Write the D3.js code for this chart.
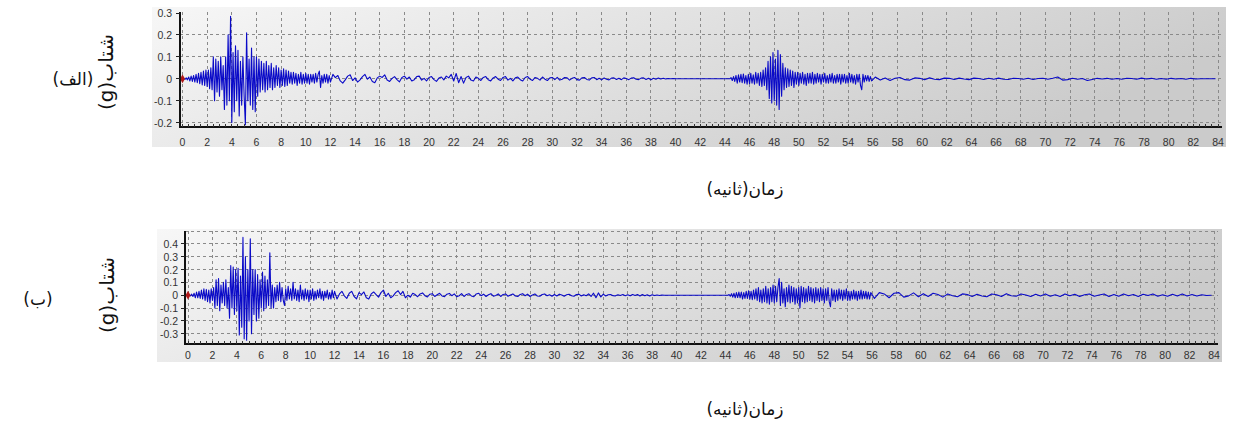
<!DOCTYPE html>
<html>
<head>
<meta charset="utf-8">
<script src="https://cdn.jsdelivr.net/npm/d3@7"></script>
<style>
  html, body { margin: 0; padding: 0; background: #ffffff; }
  svg { display: block; }
</style>
</head>
<body>
<svg id="chart" width="1243" height="424"></svg>
<script>
// ---------------- DATA ----------------
const xTickValues = d3.range(0, 85, 2);
const yTicksA = [0.3, 0.2, 0.1, 0, -0.1, -0.2];
const yTicksB = [0.4, 0.3, 0.2, 0.1, 0, -0.1, -0.2, -0.3];
const panelLabels = ["(الف)", "(ب)"];
const xTitle = "زمان(ثانیه)";
const yTitle = "شتاب(g)";

// Record A : segments start time (s) and sampling step (s)
const segStartA = [0, 12.2, 44.4, 56.2];
const segStepA  = [0.1, 0.2, 0.1, 0.4];
const accA1 = [
  0, 0.002, -0.003, 0.004, -0.005,
  0.008, -0.01, 0.012, -0.012, 0.015,
  -0.015, 0.02, -0.018, 0.025, -0.022,
  0.03, -0.028, 0.035, -0.03, 0.04,
  -0.035, 0.04, -0.045, 0.05, -0.05,
  0.1, -0.1, 0.09, -0.06, 0.08,
  -0.08, 0.1, -0.05, 0.06, -0.14,
  0.1, -0.12, 0.2, -0.1, 0.285,
  -0.2, 0.12, -0.15, 0.15, -0.1,
  0.13, -0.17, 0.08, -0.12, 0.1,
  -0.08, -0.21, 0.21, -0.1, 0.09,
  -0.12, 0.14, -0.14, 0.1, -0.15,
  0.1, -0.08, 0.09, -0.06, 0.08,
  -0.05, 0.07, -0.06, 0.08, -0.05,
  0.06, -0.04, 0.07, -0.05, 0.05,
  -0.04, 0.06, -0.03, 0.05, -0.04,
  0.04, -0.03, 0.045, -0.035, 0.04,
  -0.03, 0.035, -0.02, 0.03, -0.025,
  0.03, -0.02, 0.025, -0.03, 0.02,
  -0.02, 0.03, -0.025, 0.02, -0.02,
  0.025, -0.02, 0.02, -0.025, 0.02,
  -0.015, 0.02, -0.02, 0.025, -0.015,
  0.02, 0.035, -0.04, 0.015, -0.02,
  0.02, -0.015, 0.02, -0.02, 0.015,
  -0.015
];
const accA2 = [
  0.02, 0.005, 0.015, -0.01, -0.02,
  -0.005, 0.012, 0.018, -0.008, 0.004,
  -0.015, -0.005, 0.01, 0.02, -0.002,
  0.008, -0.012, -0.018, 0.004, 0.012,
  0.006, 0.018, -0.006, -0.012, 0.002,
  0.01, -0.004, -0.014, 0.006, 0.012,
  -0.002, 0.008, -0.01, -0.004, 0.01,
  0.012, -0.006, 0.002, -0.01, 0.006,
  0.01, -0.004, -0.012, 0.003, 0.008,
  -0.005, 0.012, 0.004, 0.02, -0.01,
  0.024, -0.018, 0.01, -0.02, 0.006,
  0.012, -0.006, -0.01, 0.008, 0.002,
  -0.008, 0.006, 0.01, -0.004, -0.01,
  0.004, 0.01, -0.002, -0.008, 0.006,
  0.01, -0.006, 0.002, -0.01, 0.004,
  0.008, -0.004, -0.01, 0.006, 0.01,
  -0.002, -0.008, 0.006, 0.002, -0.006,
  0.008, -0.002, -0.008, 0.004, 0.006,
  -0.004, 0.006, -0.006, -0.002, 0.006,
  0.004, -0.006, 0.002, 0.006, -0.004,
  -0.006, 0.004, 0.006, -0.003, -0.006,
  0.004, 0.006, -0.004, 0.002, -0.005,
  0.004, -0.002, -0.005, 0.003, 0.004,
  -0.003, 0.002, -0.004, 0.004, 0.001,
  -0.004, 0.003, 0.005, -0.002, -0.004,
  0.003, 0.004, -0.003, 0.002, -0.004,
  0.002, -0.002, 0.003, -0.001, 0.002,
  -0.001, 0.001, 0, 0.001, 0
];
const accA3 = [
  0, 0.005, -0.008, 0.01, -0.012,
  0.015, -0.02, 0.018, -0.015, 0.02,
  -0.018, 0.022, -0.02, 0.015, -0.025,
  0.02, -0.022, 0.025, -0.02, 0.018,
  -0.025, 0.03, -0.02, 0.025, -0.03,
  0.03, -0.035, 0.04, -0.03, 0.05,
  -0.05, 0.08, -0.09, 0.1, -0.11,
  0.12, -0.1, 0.09, -0.12, 0.13,
  -0.14, 0.11, -0.08, 0.07, -0.05,
  0.05, -0.04, 0.045, -0.035, 0.04,
  -0.03, 0.035, -0.04, 0.03, -0.025,
  0.03, -0.03, 0.025, -0.02, 0.03,
  -0.025, 0.02, -0.03, 0.025, -0.02,
  0.025, -0.02, 0.03, -0.025, 0.02,
  -0.02, 0.025, -0.015, 0.02, -0.025,
  0.02, -0.015, 0.025, -0.02, 0.015,
  -0.02, 0.02, -0.015, 0.025, -0.02,
  0.015, -0.02, 0.02, -0.015, 0.02,
  -0.025, 0.02, -0.015, 0.02, -0.02,
  0.015, -0.02, 0.025, -0.015, 0.02,
  -0.02, 0.015, -0.025, 0.02, -0.015,
  0.02, -0.03, -0.05, 0.02, -0.015,
  0.015, -0.01, 0.015, -0.012, 0.01,
  -0.01
];
const accA4 = [
  0.008, -0.006, 0.004, -0.008, 0.002,
  0.006, -0.004, -0.006, 0.004, 0.002,
  -0.004, 0.004, -0.002, -0.004, 0.003,
  0.002, -0.003, 0.003, -0.001, -0.004,
  0.003, 0.001, -0.003, 0.002, -0.002,
  0.003, -0.002, -0.003, 0.002, 0.001,
  -0.002, 0.002, -0.003, 0.001, 0.002,
  -0.002, 0.002, 0.008, -0.006, -0.004,
  0.002, -0.002, 0.001, -0.008, -0.003,
  0.002, -0.001, 0.002, -0.002, 0.001,
  -0.002, 0.002, 0.001, -0.002, 0.003,
  -0.001, 0.002, -0.002, 0.001, -0.002,
  0.002, -0.001, 0.001, -0.002, 0.002,
  -0.001, 0, 0, 0, 0
];

// Record B
const segStartB = [0, 12.2, 44.2, 56.2];
const segStepB  = [0.1, 0.2, 0.1, 0.4];
const accB1 = [
  0, 0.003, -0.005, 0.008, -0.01,
  0.015, -0.02, 0.025, -0.02, 0.03,
  -0.025, 0.04, -0.03, 0.05, -0.04,
  0.045, -0.05, 0.04, -0.06, 0.05,
  -0.04, 0.06, -0.1, 0.12, -0.08,
  0.13, -0.12, 0.08, -0.06, 0.1,
  -0.08, 0.12, -0.1, 0.06, -0.18,
  0.23, -0.1, 0.22, -0.15, 0.2,
  -0.12, 0.21, -0.31, 0.15, -0.25,
  0.45, -0.34, 0.3, -0.35, 0.2,
  -0.2, 0.44, -0.3, 0.2, -0.15,
  0.2, -0.2, 0.16, -0.18, 0.12,
  -0.1, 0.18, -0.12, 0.15, -0.1,
  0.12, -0.08, 0.33, -0.1, 0.08,
  -0.1, 0.06, -0.05, 0.08, -0.04,
  0.1, -0.05, 0.06, -0.04, -0.08,
  0.05, -0.04, 0.07, -0.03, 0.05,
  -0.04, 0.1, -0.03, 0.05, -0.04,
  0.04, -0.05, 0.08, -0.03, 0.04,
  -0.04, 0.05, -0.03, 0.04, -0.05,
  0.04, -0.03, 0.05, -0.04, 0.03,
  -0.03, 0.04, -0.02, 0.05, -0.03,
  0.03, -0.04, 0.03, -0.02, 0.04,
  -0.03, 0.02, -0.03, 0.04, -0.02,
  0.03
];
const accB2 = [
  -0.03, 0.01, 0.03, -0.005, -0.025,
  0.015, 0.03, -0.01, -0.028, 0.02,
  0.005, 0.025, -0.02, -0.03, 0.01,
  0.025, 0.005, -0.015, 0.02, 0.04,
  -0.01, 0.015, -0.02, -0.005, 0.02,
  0.035, 0.005, 0.03, -0.02, 0.0,
  -0.015, 0.015, 0.005, -0.012, 0.01,
  0.018, -0.004, -0.014, 0.008, 0.012,
  -0.01, 0.004, 0.015, -0.006, -0.012,
  0.008, 0.014, -0.004, 0.01, -0.012,
  -0.004, 0.012, -0.01, 0.006, 0.012,
  -0.006, -0.012, 0.01, 0.015, -0.004,
  0.008, -0.01, 0.004, 0.012, -0.008,
  -0.002, 0.01, -0.01, 0.006, 0.01,
  -0.008, 0.002, 0.01, -0.006, -0.01,
  0.006, 0.012, -0.004, 0.008, -0.01,
  0.002, 0.01, -0.006, -0.008, 0.006,
  0.01, -0.004, 0.004, -0.008, 0.006,
  -0.006, 0.008, 0.002, -0.008, 0.004,
  0.008, -0.004, -0.008, 0.006, 0.008,
  -0.006, 0.004, -0.004, 0.01, -0.01,
  0.016, -0.02, 0.018, -0.014, 0.008,
  -0.006, 0.004, 0.006, -0.004, -0.005,
  0.004, -0.002, 0.005, -0.004, 0.003,
  -0.005, 0.006, -0.002, 0.005, -0.006,
  0.006, -0.004, 0.004, -0.006, 0.003,
  -0.003, 0.002, -0.002, 0.001, 0
];
const accB3 = [
  0, 0.005, -0.008, 0.012, -0.015,
  0.015, -0.02, 0.02, -0.018, 0.025,
  -0.02, 0.025, -0.03, 0.02, -0.025,
  0.03, -0.025, 0.035, -0.03, 0.03,
  -0.035, 0.04, -0.03, 0.05, -0.04,
  0.06, -0.05, 0.04, -0.06, 0.05,
  -0.05, 0.07, -0.06, 0.05, -0.07,
  0.06, -0.05, 0.08, -0.06, 0.07,
  -0.05, 0.06, 0.13, -0.08, 0.1,
  -0.06, 0.05, -0.09, 0.06, -0.05,
  0.08, -0.06, 0.07, -0.05, 0.06,
  -0.07, 0.05, -0.06, 0.06, -0.1,
  0.07, -0.05, 0.06, -0.06, 0.05,
  -0.05, 0.07, -0.04, 0.06, -0.05,
  0.05, -0.06, 0.06, -0.04, 0.05,
  -0.05, 0.06, -0.04, 0.05, -0.06,
  0.05, -0.04, 0.06, -0.05, -0.09,
  0.05, -0.04, 0.04, -0.05, 0.04,
  -0.04, 0.05, -0.03, 0.04, -0.04,
  0.04, -0.03, 0.05, -0.04, 0.03,
  -0.04, 0.03, -0.03, 0.04, -0.03,
  0.03, -0.04, 0.03, -0.03, 0.04,
  -0.03, 0.03, -0.025, 0.03, -0.03,
  0.025, -0.03, 0.02
];
const accB4 = [
  -0.025, 0.02, 0.01, -0.02, 0.015,
  0.02, -0.015, -0.005, 0.018, -0.012,
  0.012, -0.01, 0.015, 0.005, -0.015,
  0.01, -0.004, -0.012, 0.01, 0.006,
  -0.01, 0.008, -0.006, -0.012, 0.01,
  0.004, -0.01, 0.012, -0.004, -0.008,
  0.01, 0.002, -0.01, 0.008, -0.006,
  0.01, -0.008, 0.004, -0.01, 0.01,
  -0.004, 0.008, -0.01, 0.004, 0.01,
  -0.008, 0.002, 0.01, -0.01, 0.006,
  -0.008, 0.01, -0.004, 0.006, -0.01,
  0.008, -0.002, 0.01, -0.008, 0.004,
  -0.008, 0.008, -0.006, 0.01, -0.006,
  0.006, -0.006, 0.004, -0.002, 0
];

// -------------- BUILD ----------------
function buildSeries(starts, steps, segs) {
  const out = [];
  segs.forEach((vals, k) => {
    vals.forEach((v, i) => out.push([starts[k] + i * steps[k], v]));
  });
  return out;
}
const seriesA = buildSeries(segStartA, segStepA, [accA1, accA2, accA3, accA4]);
const seriesB = buildSeries(segStartB, segStepB, [accB1, accB2, accB3, accB4]);

const svg = d3.select("#chart");
const defs = svg.append("defs");
const grad = defs.append("linearGradient").attr("id", "bgGrad")
  .attr("x1", "0%").attr("y1", "0%").attr("x2", "100%").attr("y2", "30%");
grad.append("stop").attr("offset", "0%").attr("stop-color", "#f7f7f7");
grad.append("stop").attr("offset", "100%").attr("stop-color", "#cbcbcb");

const panels = [
  {
    data: seriesA, yTicks: yTicksA, yGrid: [0.2, 0.1, 0, -0.1, -0.2],
    bg: [152, 7, 1226, 147],
    x0: 182.5, x1: 1218, axisX: 180, yDom: [-0.22, 0.3], yRange: [127, 13],
    axisTop: 12, axisBottom: 127, axisRight: 1222,
    xLabelY: 146, yLabelX: 172,
    label: panelLabels[0], labelX: 73, labelY: 79,
    ytX: 106, ytY: 72, xtY: 195
  },
  {
    data: seriesB, yTicks: yTicksB, yGrid: [0.5, 0.4, 0.3, 0.2, 0.1, 0, -0.1, -0.2, -0.3],
    bg: [157, 229, 1222, 362],
    x0: 188, x1: 1214, axisX: 185, yDom: [-0.38, 0.5], yRange: [344, 231],
    axisTop: 231, axisBottom: 344, axisRight: 1218,
    xLabelY: 359, yLabelX: 178,
    label: panelLabels[1], labelX: 38, labelY: 299,
    ytX: 107, ytY: 295, xtY: 415
  }
];

panels.forEach(p => {
  const g = svg.append("g");
  const x = d3.scaleLinear().domain([0, 84]).range([p.x0, p.x1]);
  const y = d3.scaleLinear().domain(p.yDom).range(p.yRange);

  // background
  g.append("rect")
    .attr("x", p.bg[0]).attr("y", p.bg[1])
    .attr("width", p.bg[2] - p.bg[0]).attr("height", p.bg[3] - p.bg[1])
    .attr("fill", "url(#bgGrad)");

  // vertical grid
  g.append("g").selectAll("line").data(xTickValues).join("line")
    .attr("x1", d => x(d)).attr("x2", d => x(d))
    .attr("y1", p.axisTop).attr("y2", p.axisBottom)
    .attr("stroke", "#8a8a8a").attr("stroke-width", 1)
    .attr("stroke-dasharray", "3,3").attr("shape-rendering", "crispEdges");
  // horizontal grid
  g.append("g").selectAll("line").data(p.yGrid).join("line")
    .attr("x1", p.axisX).attr("x2", p.axisRight)
    .attr("y1", d => y(d)).attr("y2", d => y(d))
    .attr("stroke", "#8a8a8a").attr("stroke-width", 1)
    .attr("stroke-dasharray", "3,3").attr("shape-rendering", "crispEdges");

  // signal
  const line = d3.line().x(d => x(d[0])).y(d => y(d[1]));
  g.append("path").datum(p.data)
    .attr("d", line)
    .attr("fill", "none")
    .attr("stroke", "#0a0ac8")
    .attr("stroke-width", 1.1)
    .attr("stroke-linejoin", "round");

  // origin marker
  g.append("path")
    .attr("d", d3.symbol().type(d3.symbolDiamond).size(22)())
    .attr("transform", `translate(${x(0)},${y(0)})`)
    .attr("fill", "#b01818");

  // axes lines
  g.append("line").attr("x1", p.axisX).attr("x2", p.axisX)
    .attr("y1", p.axisTop).attr("y2", p.axisBottom + 1)
    .attr("stroke", "#111").attr("stroke-width", 2);
  g.append("line").attr("x1", p.axisX).attr("x2", p.axisRight)
    .attr("y1", p.axisBottom).attr("y2", p.axisBottom)
    .attr("stroke", "#111").attr("stroke-width", 2);

  // minor x ticks
  g.append("g").selectAll("line").data(d3.range(0, 84.01, 0.5)).join("line")
    .attr("x1", d => x(d)).attr("x2", d => x(d))
    .attr("y1", p.axisBottom - 3).attr("y2", p.axisBottom)
    .attr("stroke", "#333").attr("stroke-width", 1).attr("shape-rendering", "crispEdges");

  // y ticks
  g.append("g").selectAll("line").data(p.yTicks).join("line")
    .attr("x1", p.axisX - 4).attr("x2", p.axisX)
    .attr("y1", d => y(d)).attr("y2", d => y(d))
    .attr("stroke", "#222").attr("stroke-width", 1).attr("shape-rendering", "crispEdges");

  // tick labels
  g.append("g").selectAll("text").data(xTickValues).join("text")
    .attr("x", d => x(d)).attr("y", p.xLabelY)
    .attr("text-anchor", "middle")
    .attr("font-family", "Liberation Sans, Arial, sans-serif")
    .attr("font-size", 10.5).attr("fill", "#333")
    .text(d => d);
  g.append("g").selectAll("text").data(p.yTicks).join("text")
    .attr("x", p.yLabelX).attr("y", d => y(d) + 4)
    .attr("text-anchor", "end")
    .attr("font-family", "Liberation Sans, Arial, sans-serif")
    .attr("font-size", 10.5).attr("fill", "#333")
    .text(d => d);

  // titles
  g.append("text")
    .attr("x", 745).attr("y", p.xtY)
    .attr("text-anchor", "middle")
    .attr("direction", "rtl")
    .attr("font-family", "DejaVu Sans, Noto Sans, sans-serif")
    .attr("font-size", 17).attr("fill", "#111")
    .text(xTitle);
  g.append("text")
    .attr("transform", `translate(${p.ytX},${p.ytY}) rotate(-90)`)
    .attr("text-anchor", "middle")
    .attr("dominant-baseline", "central")
    .attr("direction", "rtl")
    .attr("font-family", "DejaVu Sans, Noto Sans, sans-serif")
    .attr("font-size", 20).attr("fill", "#111")
    .text(yTitle);
  g.append("text")
    .attr("x", p.labelX).attr("y", p.labelY)
    .attr("text-anchor", "middle")
    .attr("dominant-baseline", "central")
    .attr("direction", "rtl")
    .attr("font-family", "DejaVu Sans, Noto Sans, sans-serif")
    .attr("font-size", 17).attr("fill", "#111")
    .text(p.label);
});
</script>
</body>
</html>
